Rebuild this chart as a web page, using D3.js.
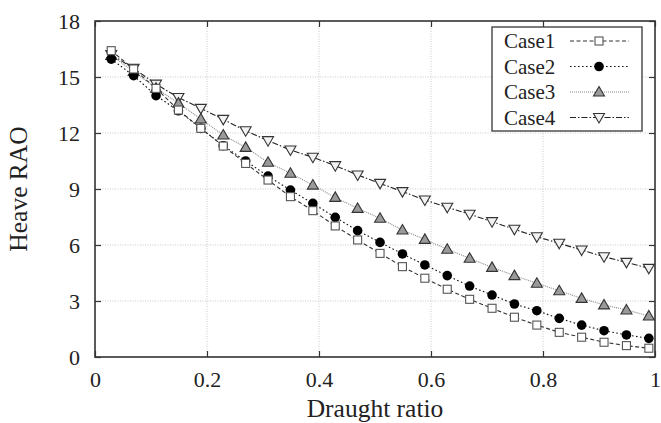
<!DOCTYPE html>
<html>
<head>
<meta charset="utf-8">
<script src="https://cdn.jsdelivr.net/npm/d3@7"></script>
<style>
  body { margin: 0; background: #fff; }
</style>
</head>
<body>
<div id="chart"></div>
<script>
const width = 661;
const height = 423;
const margin = { top: 21, right: 6, bottom: 66, left: 95 };
const serif = "'Liberation Serif', 'Times New Roman', Times, 'DejaVu Serif', serif";

// draught ratio sample points
const draught = [0.029, 0.069, 0.109, 0.149, 0.189, 0.229, 0.269, 0.309, 0.349, 0.389,
    0.429, 0.469, 0.509, 0.549, 0.589, 0.629, 0.669, 0.709, 0.749, 0.789,
    0.829, 0.869, 0.909, 0.949, 0.989];

const case1 = [16.41, 15.43, 14.39, 13.23, 12.25, 11.30, 10.37, 9.48, 8.59, 7.84,
    7.02, 6.27, 5.55, 4.84, 4.22, 3.63, 3.09, 2.61, 2.13, 1.71,
    1.32, 1.06, 0.79, 0.61, 0.47];
const case2 = [15.96, 15.07, 14.00, 13.19, 12.25, 11.32, 10.50, 9.69, 8.94, 8.23,
    7.48, 6.77, 6.14, 5.52, 4.93, 4.36, 3.80, 3.32, 2.84, 2.48,
    2.07, 1.71, 1.41, 1.18, 1.00];
const case3 = [16.15, 15.30, 14.40, 13.60, 12.75, 11.89, 11.23, 10.43, 9.84, 9.21,
    8.55, 7.96, 7.43, 6.80, 6.30, 5.77, 5.29, 4.80, 4.36, 3.95,
    3.55, 3.14, 2.79, 2.52, 2.20];
const case4 = [16.20, 15.46, 14.62, 13.90, 13.32, 12.73, 12.12, 11.59, 11.09, 10.70,
    10.25, 9.75, 9.30, 8.86, 8.41, 8.02, 7.65, 7.25, 6.84, 6.44,
    6.09, 5.73, 5.37, 5.07, 4.75];

const xTicks = [0, 0.2, 0.4, 0.6, 0.8, 1];
const yTicks = [0, 3, 6, 9, 12, 15, 18];

const series = [
    { name: "Case1", values: case1, stroke: "#333", dash: "4,2.5", marker: "square" },
    { name: "Case2", values: case2, stroke: "#111", dash: "1.6,2.4", marker: "circle" },
    { name: "Case3", values: case3, stroke: "#888", dash: "1,1", marker: "triangleUp" },
    { name: "Case4", values: case4, stroke: "#222", dash: "6,2,1.5,2", marker: "triangleDown" }
];

const svg = d3.select("#chart").append("svg")
    .attr("width", width)
    .attr("height", height);

const x = d3.scaleLinear().domain([0, 1]).range([margin.left, width - margin.right]);
const y = d3.scaleLinear().domain([0, 18]).range([height - margin.bottom, margin.top]);

const x0 = x.range()[0], x1 = x.range()[1];
const y0 = y.range()[0], y1 = y.range()[1];

// grid
svg.append("g").selectAll("line")
    .data(xTicks.slice(1, -1))
    .enter().append("line")
    .attr("x1", d => x(d)).attr("x2", d => x(d))
    .attr("y1", y1).attr("y2", y0)
    .attr("stroke", "#bbb").attr("stroke-width", 0.8)
    .attr("stroke-dasharray", "1,1.5");

svg.append("g").selectAll("line")
    .data(yTicks.slice(1, -1))
    .enter().append("line")
    .attr("x1", x0).attr("x2", x1)
    .attr("y1", d => y(d)).attr("y2", d => y(d))
    .attr("stroke", "#bbb").attr("stroke-width", 0.8)
    .attr("stroke-dasharray", "1,1.5");

// axes with inward ticks
const tickLen = 6;
svg.append("g")
    .attr("transform", `translate(0,${y0})`)
    .call(d3.axisBottom(x).tickValues(xTicks).tickSizeInner(-tickLen).tickSizeOuter(0)
        .tickPadding(14).tickFormat(d => d3.format("")(d)))
    .call(g => g.select(".domain").remove())
    .call(g => g.selectAll("text").attr("font-size", 22).attr("fill", "#222").attr("font-family", serif));

svg.append("g")
    .attr("transform", `translate(${x0},0)`)
    .call(d3.axisLeft(y).tickValues(yTicks).tickSizeInner(-tickLen).tickSizeOuter(0).tickPadding(15))
    .call(g => g.select(".domain").remove())
    .call(g => g.selectAll("text").attr("font-size", 22).attr("fill", "#222").attr("font-family", serif));

svg.append("g")
    .attr("transform", `translate(0,${y1})`)
    .call(d3.axisTop(x).tickValues(xTicks).tickSizeInner(-tickLen).tickSizeOuter(0).tickFormat(""))
    .call(g => g.select(".domain").remove());

svg.append("g")
    .attr("transform", `translate(${x1},0)`)
    .call(d3.axisRight(y).tickValues(yTicks).tickSizeInner(-tickLen).tickSizeOuter(0).tickFormat(""))
    .call(g => g.select(".domain").remove());

svg.selectAll(".tick line").attr("stroke", "#333").attr("stroke-width", 1.2);

// frame
svg.append("rect")
    .attr("x", x0).attr("y", y1)
    .attr("width", x1 - x0).attr("height", y0 - y1)
    .attr("fill", "none").attr("stroke", "#333").attr("stroke-width", 1.6);

// axis titles
svg.append("text")
    .attr("x", (x0 + x1) / 2).attr("y", 417)
    .attr("text-anchor", "middle")
    .attr("font-family", serif)
    .attr("font-size", 25.5)
    .attr("fill", "#222")
    .text("Draught ratio");

svg.append("text")
    .attr("transform", `translate(27,${(y0 + y1) / 2}) rotate(-90)`)
    .attr("text-anchor", "middle")
    .attr("font-family", serif)
    .attr("font-size", 25.5)
    .attr("fill", "#222")
    .text("Heave RAO");

function drawMarker(g, type, cx, cy) {
    if (type === "square") {
        g.append("rect").attr("x", cx - 4).attr("y", cy - 4).attr("width", 8).attr("height", 8)
            .attr("fill", "#fff").attr("stroke", "#555").attr("stroke-width", 1.1);
    } else if (type === "circle") {
        g.append("circle").attr("cx", cx).attr("cy", cy).attr("r", 4.8).attr("fill", "#000");
    } else if (type === "triangleUp") {
        g.append("path").attr("d", `M${cx},${cy - 5.5}L${cx + 5.5},${cy + 4}L${cx - 5.5},${cy + 4}Z`)
            .attr("fill", "#9a9a9a").attr("stroke", "#333").attr("stroke-width", 1.1);
    } else {
        g.append("path").attr("d", `M${cx},${cy + 5.5}L${cx + 5.5},${cy - 4}L${cx - 5.5},${cy - 4}Z`)
            .attr("fill", "#f2f2f2").attr("stroke", "#333").attr("stroke-width", 1.1);
    }
}

const line = d3.line().x(d => x(d[0])).y(d => y(d[1]));

// draw back to front so Case1 squares sit on top like the original
series.slice().reverse().forEach(s => {
    const pts = draught.map((d, i) => [d, s.values[i]]);
    const g = svg.append("g");
    g.append("path")
        .datum(pts)
        .attr("d", line)
        .attr("fill", "none")
        .attr("stroke", s.stroke)
        .attr("stroke-width", 1.1)
        .attr("stroke-dasharray", s.dash);
    pts.forEach(p => drawMarker(g, s.marker, x(p[0]), y(p[1])));
});

// legend
const legend = svg.append("g");
legend.append("rect")
    .attr("x", 492).attr("y", 27).attr("width", 150).attr("height", 104)
    .attr("fill", "#fff").attr("stroke", "#444").attr("stroke-width", 1.4);

series.forEach((s, i) => {
    const cy = 41 + i * 25.5;
    legend.append("text")
        .attr("x", 504).attr("y", cy + 7)
        .attr("font-family", serif)
        .attr("font-size", 21)
        .attr("fill", "#222")
        .text(s.name);
    legend.append("line")
        .attr("x1", 570).attr("x2", 629)
        .attr("y1", cy).attr("y2", cy)
        .attr("stroke", s.stroke).attr("stroke-width", 1.1)
        .attr("stroke-dasharray", s.dash);
    drawMarker(legend, s.marker, 599, cy);
});
</script>
</body>
</html>
